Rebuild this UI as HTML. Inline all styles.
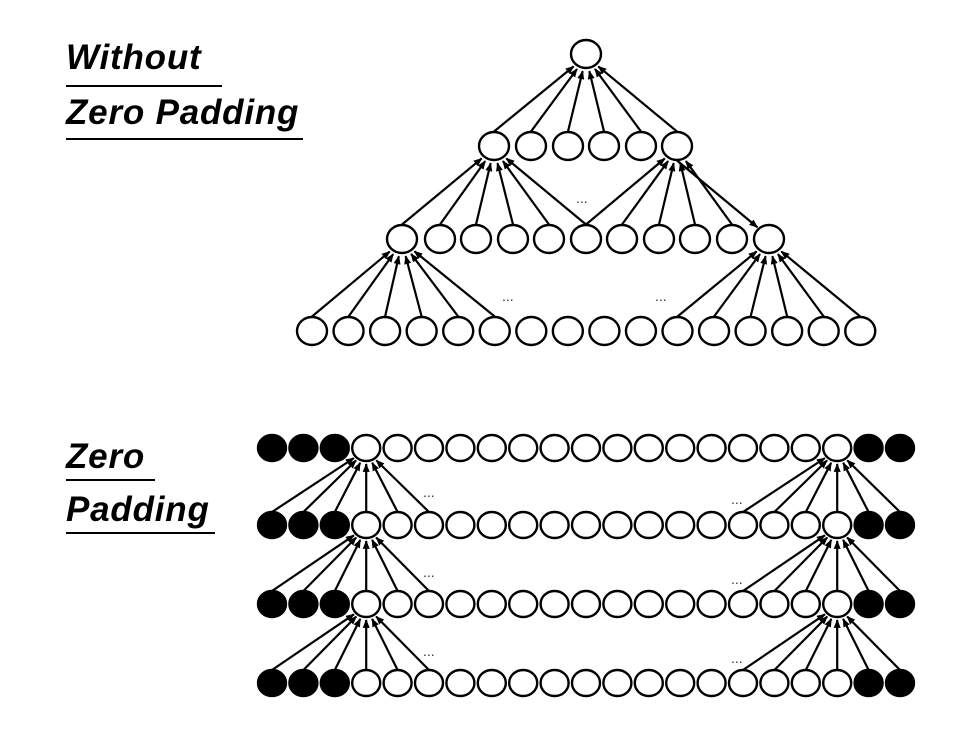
<!DOCTYPE html>
<html><head><meta charset="utf-8"><style>
body{margin:0;background:#fff;width:979px;height:735px;overflow:hidden}
svg{position:absolute;left:0;top:0}
</style></head><body>
<svg id="s" width="979" height="735" viewBox="0 0 979 735" xmlns="http://www.w3.org/2000/svg">
<defs><marker id="a" viewBox="0 0 10 10" refX="9" refY="5" markerWidth="4" markerHeight="4" orient="auto"><path d="M0,1 L10,5 L0,9 z" fill="#000"/></marker></defs>
<g font-family="Liberation Sans, sans-serif" font-weight="bold" font-style="italic" font-size="35" letter-spacing="0.8" fill="#000">
<text x="66" y="69">Without</text>
<text x="66" y="124">Zero Padding</text>
<text x="66" y="468">Zero</text>
<text x="66" y="521">Padding</text>
</g>
<g stroke="#000" stroke-width="2">
<line x1="66" y1="86" x2="222" y2="86"/>
<line x1="66" y1="139" x2="303" y2="139"/>
<line x1="66" y1="480" x2="155" y2="480"/>
<line x1="66" y1="533" x2="215" y2="533"/>
</g>
<g font-family="Liberation Sans, sans-serif" font-size="14" fill="#333">
<text x="576" y="203">...</text>
<text x="502" y="301">...</text>
<text x="655" y="301">...</text>
<text x="423" y="497">...</text><text x="731" y="504">...</text>
<text x="423" y="577">...</text><text x="731" y="584">...</text>
<text x="423" y="656">...</text><text x="731" y="663">...</text>
</g>
<g id="e" stroke="#000" stroke-width="2.2" fill="none" marker-end="url(#a)"></g>
<g id="c" stroke="#000" stroke-width="2.4"></g>
</svg>
<script>
var NS="http://www.w3.org/2000/svg";
var E=document.getElementById('e'),C=document.getElementById('c');
function circ(x,y,rx,ry,f){var c=document.createElementNS(NS,'ellipse');c.setAttribute('cx',x);c.setAttribute('cy',y);c.setAttribute('rx',rx);c.setAttribute('ry',ry);c.setAttribute('fill',f?'#000':'#fff');C.appendChild(c);}
function arr(sx,sy,tx,ty,r,down){
 var x1,y1,x2,y2,dx=sx-tx,dy=sy-ty,l=Math.hypot(dx,dy);
 if(!down){x1=sx;y1=sy-r;x2=tx+dx/l*(r+3);y2=ty+dy/l*(r+3);}
 else{x1=sx;y1=sy+r;x2=tx+dx/l*(r+2);y2=ty+dy/l*(r+2);}
 var p=document.createElementNS(NS,'line');p.setAttribute('x1',x1);p.setAttribute('y1',y1);p.setAttribute('x2',x2);p.setAttribute('y2',y2);E.appendChild(p);}
var tp=[586,54],y2=146,y3=239,y4=331;
var r2=[494,531,568,604,641,677];
var r3=[402,440,476,513,549,586,622,659,695,732,769];
var r4=[];for(var i=0;i<16;i++)r4.push(312+i*36.55);
var R=14.5;
r2.forEach(function(x){arr(x,y2,tp[0],tp[1],R);});
for(var i=0;i<=5;i++)arr(r3[i],y3,r2[0],y2,R);
for(var i=5;i<=9;i++)arr(r3[i],y3,r2[5],y2,R);
arr(r2[5],y2,r3[10],y3,R,true);
for(var i=0;i<=5;i++)arr(r4[i],y4,r3[0],y3,R);
for(var i=10;i<=15;i++)arr(r4[i],y4,r3[10],y3,R);
circ(tp[0],tp[1],15,14);
r2.forEach(function(x){circ(x,y2,15,14);});
r3.forEach(function(x){circ(x,y3,15,14);});
r4.forEach(function(x){circ(x,y4,15,14);});
var ys=[448,525,604,683],xs=[];for(var i=0;i<21;i++)xs.push(272+i*31.4);
for(var k=1;k<4;k++){
 for(var i=0;i<=5;i++)arr(xs[i],ys[k],xs[3],ys[k-1],13);
 for(var i=15;i<=20;i++)arr(xs[i],ys[k],xs[18],ys[k-1],13);
}
ys.forEach(function(y){xs.forEach(function(x,i){circ(x,y,14,13,(i<3||i>18));});});
</script>
</body></html>
